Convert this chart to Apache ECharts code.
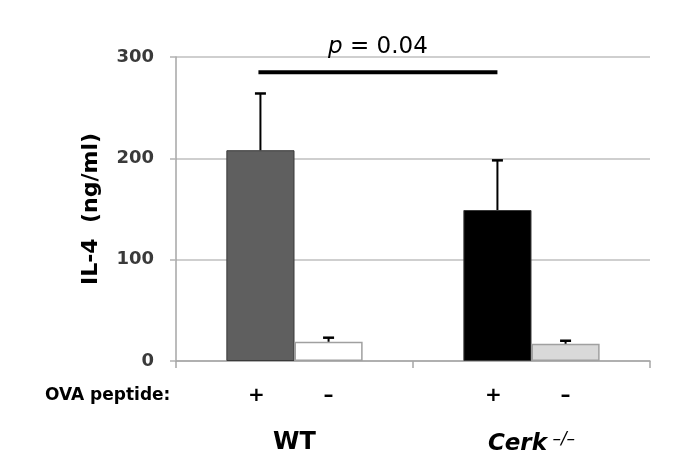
<!DOCTYPE html>
<html>
<head>
<meta charset="utf-8">
<script src="https://cdn.jsdelivr.net/npm/echarts@6/dist/echarts.min.js"></script>
<style>html,body{margin:0;padding:0;background:#fff}#c{width:685px;height:475px}</style>
</head>
<body>
<div id="c"></div>
<script>
// ---- data ----
const groups = ['WT', 'Cerk'];
const ovaLabels = ['+', '–'];
const meanPlus = [208, 149];
const errTopPlus = [264, 198];
const meanMinus = [19, 17];
const errTopMinus = [23, 20];
const yMin = 0, yMax = 300, yInterval = 100;
const pText = 'p = 0.04';
const pLineValue = 285;

const FONT = 'DejaVu Sans';
const CAT_GAP = 0.425;

const chart = echarts.init(document.getElementById('c'), null, {renderer: 'canvas'});

const errData = [];
groups.forEach((g, i) => {
  errData.push([i, 0, meanPlus[i], errTopPlus[i]]);
  errData.push([i, 1, meanMinus[i], errTopMinus[i]]);
});

function barHalf(api) {
  const band = api.size([1, 0])[0];
  return band * (1 - CAT_GAP) / 4;
}

const option = {
  animation: false,
  grid: {left: 176, right: 35, top: 57, bottom: 114, containLabel: false},
  xAxis: {
    type: 'category',
    data: groups,
    axisLine: {lineStyle: {color: '#a6a6a6', width: 1.5}},
    axisTick: {show: true, length: 7, lineStyle: {color: '#a6a6a6', width: 1.5}},
    axisLabel: {
      margin: 70,
      fontFamily: FONT,
      formatter: function (v) {
        return v === 'Cerk' ? '{i|Cerk}{s| –/–}' : '{b|' + v + '}';
      },
      rich: {
        b: {fontFamily: FONT, fontWeight: 'bold', fontSize: 24, color: '#000'},
        i: {fontFamily: FONT, fontWeight: 'bold', fontStyle: 'italic', fontSize: 23, color: '#000'},
        s: {fontFamily: FONT, fontStyle: 'italic', fontSize: 17, color: '#000', verticalAlign: 'top', padding: [0, 0, 10, 0]}
      }
    }
  },
  yAxis: {
    type: 'value',
    min: yMin, max: yMax, interval: yInterval,
    name: 'IL-4  (ng/ml)',
    nameLocation: 'middle',
    nameGap: 74,
    nameTextStyle: {fontFamily: FONT, fontWeight: 'bold', fontSize: 22, color: '#000'},
    axisLine: {show: true, lineStyle: {color: '#a6a6a6', width: 1.5}},
    axisTick: {show: true, length: 6, lineStyle: {color: '#b3b3b3', width: 1.5}},
    splitLine: {lineStyle: {color: '#bfbfbf', width: 1.5}},
    axisLabel: {margin: 22, fontFamily: FONT, fontWeight: 'bold', fontSize: 18, color: '#3a3a3a'}
  },
  graphic: [{
    type: 'text', left: 45, top: 387,
    style: {text: 'OVA peptide:', fontFamily: FONT, fontWeight: 'bold', fontSize: 17, fill: '#000'}
  }],
  series: [
    {
      name: ovaLabels[0], type: 'bar', barGap: '0%', barCategoryGap: (CAT_GAP * 100) + '%',
      data: meanPlus.map((v, i) => ({
        value: v,
        itemStyle: {color: i === 0 ? '#5f5f5f' : '#000000', borderColor: '#3a3a3a', borderWidth: 1}
      })),
      label: {
        show: true, position: 'bottom', distance: 25, formatter: ovaLabels[0],
        fontFamily: FONT, fontWeight: 'bold', fontSize: 20, color: '#000', offset: [-4, 0]
      }
    },
    {
      name: ovaLabels[1], type: 'bar',
      data: meanMinus.map((v, i) => ({
        value: v,
        itemStyle: {color: i === 0 ? '#ffffff' : '#d9d9d9', borderColor: '#a0a0a0', borderWidth: 1.5}
      })),
      label: {
        show: true, position: 'bottom', distance: 25, formatter: ovaLabels[1],
        fontFamily: FONT, fontWeight: 'bold', fontSize: 20, color: '#000'
      }
    },
    {
      type: 'custom',
      data: errData,
      z: 5,
      renderItem: function (params, api) {
        const half = barHalf(api);
        const off = api.value(1) === 0 ? -half : half;
        const base = api.coord([api.value(0), api.value(2)]);
        const top = api.coord([api.value(0), api.value(3)]);
        const x = base[0] + off;
        const cap = 5.5;
        return {
          type: 'group',
          children: [
            {type: 'line', shape: {x1: x, y1: base[1], x2: x, y2: top[1]}, style: {stroke: '#000', lineWidth: 2}},
            {type: 'line', shape: {x1: x - cap, y1: top[1], x2: x + cap, y2: top[1]}, style: {stroke: '#000', lineWidth: 2.5}}
          ]
        };
      }
    },
    {
      type: 'custom',
      data: [[0, 1, pLineValue]],
      z: 6,
      renderItem: function (params, api) {
        const half = barHalf(api);
        const a = api.coord([api.value(0), api.value(2)]);
        const b = api.coord([api.value(1), api.value(2)]);
        const x1 = a[0] - half - 2, x2 = b[0] - half;
        return {
          type: 'group',
          children: [
            {type: 'line', shape: {x1: x1, y1: a[1], x2: x2, y2: a[1]}, style: {stroke: '#000', lineWidth: 4}},
            {
              type: 'text', x: (x1 + x2) / 2, y: a[1] - 25,
              style: {
                text: '{i|p}' + pText.slice(1),
                align: 'center', verticalAlign: 'middle',
                fontFamily: FONT, fontSize: 23, fill: '#000',
                rich: {i: {fontFamily: FONT, fontStyle: 'italic', fontSize: 23, fill: '#000'}}
              }
            }
          ]
        };
      }
    }
  ]
};
chart.setOption(option);
</script>
</body>
</html>
